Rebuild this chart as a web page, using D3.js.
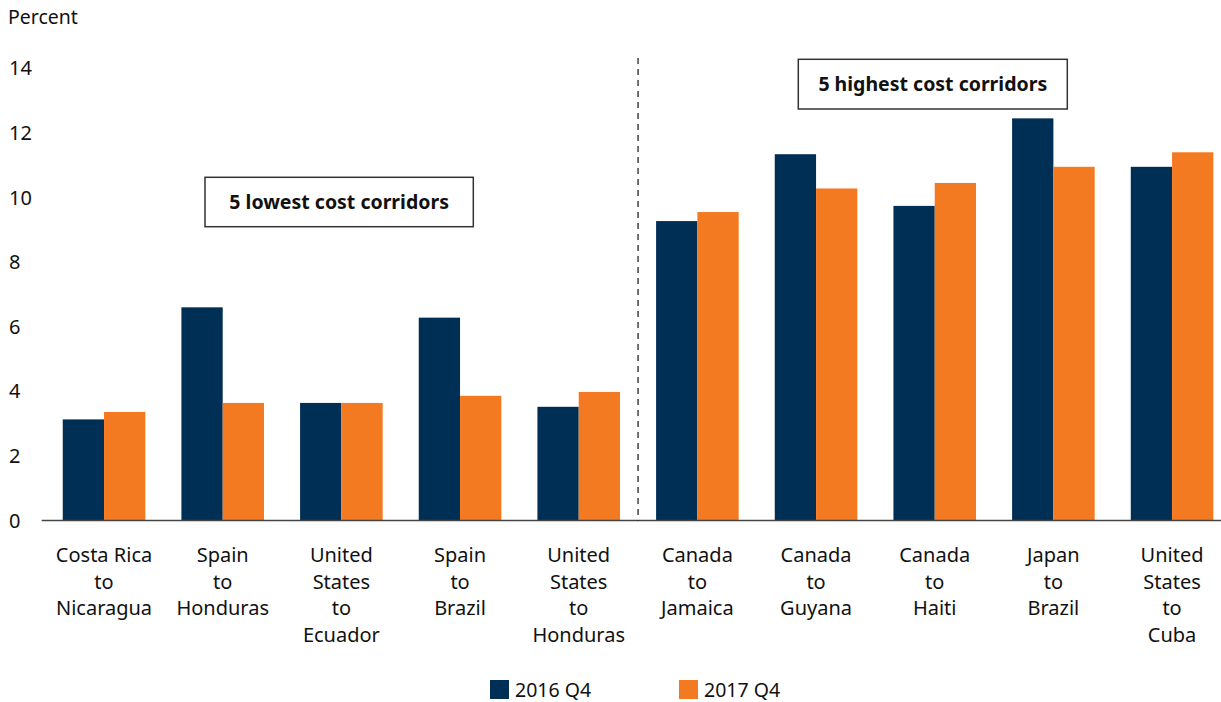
<!DOCTYPE html>
<html>
<head>
<meta charset="utf-8">
<script src="https://cdn.jsdelivr.net/npm/d3@7"></script>
<style>
  body { margin: 0; background: #fff; }
  svg text { font-family: "Noto Sans", Lato, sans-serif; fill: #111; }
</style>
</head>
<body>
<div id="chart"></div>
<script>
// data
var corridors = [
  ["Costa Rica", "to", "Nicaragua"],
  ["Spain", "to", "Honduras"],
  ["United", "States", "to", "Ecuador"],
  ["Spain", "to", "Brazil"],
  ["United", "States", "to", "Honduras"],
  ["Canada", "to", "Jamaica"],
  ["Canada", "to", "Guyana"],
  ["Canada", "to", "Haiti"],
  ["Japan", "to", "Brazil"],
  ["United", "States", "to", "Cuba"]
];
var seriesNames = ["2016 Q4", "2017 Q4"];
var q4_2016 = [3.13, 6.6, 3.64, 6.28, 3.52, 9.27, 11.34, 9.74, 12.45, 10.95];
var q4_2017 = [3.36, 3.64, 3.64, 3.86, 3.98, 9.55, 10.28, 10.45, 10.95, 11.4];
var yTicks = [0, 2, 4, 6, 8, 10, 12, 14];
var colors = ["#002f56", "#f47a22"];

var width = 1221, height = 702;

var svg = d3.select("#chart").append("svg")
    .attr("width", width)
    .attr("height", height);

// scales
var x0 = d3.scaleBand()
    .domain(d3.range(corridors.length))
    .range([44.7, 1231.4])
    .paddingInner(0.304)
    .paddingOuter(0.152);
var x1 = d3.scaleBand()
    .domain([0, 1])
    .range([0, x0.bandwidth()]);
var y = d3.scaleLinear().domain([0, 14]).range([520.5, 68.3]);

// y axis labels
svg.append("text")
    .attr("x", 8)
    .attr("y", 24)
    .style("font-size", "19.5px")
    .text("Percent");

svg.append("g").selectAll("text")
    .data(yTicks)
    .enter().append("text")
    .attr("x", 9)
    .attr("y", function(d) { return y(d); })
    .attr("dy", "0.35em")
    .style("font-size", "20px")
    .text(function(d) { return d; });

// bars
var groups = svg.append("g").selectAll("g")
    .data(corridors.map(function(c, i) { return [q4_2016[i], q4_2017[i]]; }))
    .enter().append("g")
    .attr("transform", function(d, i) { return "translate(" + x0(i) + ",0)"; });

groups.selectAll("rect")
    .data(function(d) { return d; })
    .enter().append("rect")
    .attr("x", function(d, j) { return x1(j); })
    .attr("y", function(d) { return y(d); })
    .attr("width", x1.bandwidth())
    .attr("height", function(d) { return y(0) - y(d); })
    .attr("fill", function(d, j) { return colors[j]; });

// baseline
svg.append("line")
    .attr("x1", 41.7).attr("x2", width)
    .attr("y1", y(0)).attr("y2", y(0))
    .attr("stroke", "#444")
    .attr("stroke-width", 1.5);

// divider between lowest and highest
var divX = (x0(4) + x0.bandwidth() + x0(5)) / 2;
svg.append("line")
    .attr("x1", divX).attr("x2", divX)
    .attr("y1", 58).attr("y2", y(0))
    .attr("stroke", "#111")
    .attr("stroke-width", 1.2)
    .attr("stroke-dasharray", "6,5");

// category labels
svg.append("g").selectAll("text")
    .data(corridors)
    .enter().append("text")
    .attr("text-anchor", "middle")
    .attr("x", function(d, i) { return x0(i) + x0.bandwidth() / 2; })
    .attr("y", 562)
    .style("font-size", "20px")
    .each(function(d) {
        var t = d3.select(this);
        d.forEach(function(line, k) {
            t.append("tspan")
                .attr("x", t.attr("x"))
                .attr("dy", k === 0 ? 0 : 26.7)
                .text(line);
        });
    });

// annotation boxes
var boxes = [
  {label: "5 lowest cost corridors", x: 205, y: 177.3, w: 268.3, h: 49.4},
  {label: "5 highest cost corridors", x: 798.3, y: 59.3, w: 269, h: 49.7}
];
boxes.forEach(function(b) {
    svg.append("rect")
        .attr("x", b.x).attr("y", b.y)
        .attr("width", b.w).attr("height", b.h)
        .attr("fill", "#fff")
        .attr("stroke", "#333")
        .attr("stroke-width", 1.5);
    svg.append("text")
        .attr("x", b.x + b.w / 2)
        .attr("y", b.y + b.h / 2)
        .attr("dy", "0.35em")
        .attr("text-anchor", "middle")
        .style("font-size", "19.5px")
        .style("font-weight", "bold")
        .text(b.label);
});

// legend
var legend = svg.append("g").selectAll("g")
    .data(seriesNames)
    .enter().append("g")
    .attr("transform", function(d, i) { return "translate(" + (490 + i * 189) + ",680)"; });
legend.append("rect")
    .attr("width", 19).attr("height", 19)
    .attr("fill", function(d, i) { return colors[i]; });
legend.append("text")
    .attr("x", 25)
    .attr("y", 10)
    .attr("dy", "0.35em")
    .style("font-size", "19.5px")
    .text(function(d) { return d; });
</script>
</body>
</html>
